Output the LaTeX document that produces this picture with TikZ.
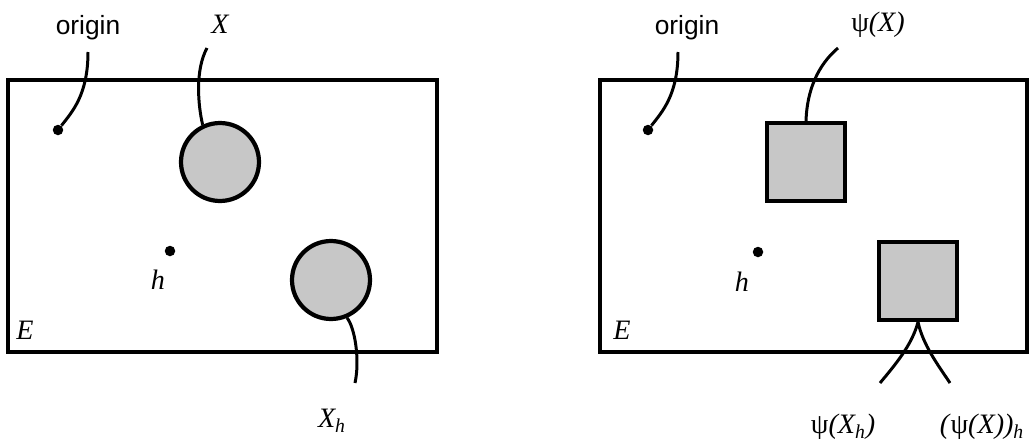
\documentclass[tikz,border=0pt]{standalone}
\usepackage{fontspec}
\setmainfont{Liberation Serif}
\setsansfont{Liberation Sans}

\begin{document}
\begin{tikzpicture}[x=0.02cm,y=-0.02cm,
  frame/.style={line width=2pt},
  blob/.style={draw,line width=2.4pt,fill=black!22,minimum size=1.56cm,inner sep=0pt},
  pt/.style={circle,fill,inner sep=0pt,minimum size=0.21cm},
  lead/.style={line width=1.7pt},
  word/.style={font=\sffamily\fontsize{15}{18}\selectfont},
  sym/.style={font=\fontsize{16}{19}\selectfont\itshape}]
  \useasboundingbox (0,0) rectangle (1035,443);
  % left panel: X and its translate X_h
  \draw[frame] (8,80) rectangle (437,352);
  \node[word] (orgL) at (88,28) {origin};
  \node[sym] (xL) at (220,24) {X};
  \node[sym] (hL) at (158,280) {h};
  \node[sym] (eL) at (25,330) {E};
  \node[sym] (xhL) at (332,421) {X\textsubscript{h}};
  \node[pt] (o1) at (58,130) {};
  \node[pt] (h1) at (170,251) {};
  \node[blob,circle] (c1) at (220,162) {};
  \node[blob,circle] (c2) at (331,280) {};
  \coordinate (orgLe) at (88,52);
  \coordinate (xLe) at (207,48);
  \coordinate (xhLe) at (355,383);
  \draw[lead] (orgLe) .. controls (88,95) and (72,112) .. (o1);
  \draw[lead] (xLe) .. controls (195,70) and (198,105) .. (c1.115);
  \draw[lead] (c2.-67) .. controls (355,328) and (360,360) .. (xhLe);
  % right panel: psi(X) and its translates
  \draw[frame] (600,80) rectangle (1027,352);
  \node[word] (orgR) at (687,28) {origin};
  \node[sym] (psiR) at (878,25) {\textup{ψ}(X)};
  \node[sym] (hR) at (742,282) {h};
  \node[sym] (eR) at (622,330) {E};
  \node[sym] (psihR) at (843,427) {\textup{ψ}(X\textsubscript{h})};
  \node[sym] (hpsiR) at (982,427) {(\textup{ψ}(X))\textsubscript{h}};
  \node[pt] (o2) at (648,130) {};
  \node[pt] (h2) at (758,252) {};
  \node[blob] (s1) at (806,162) {};
  \node[blob] (s2) at (918,281) {};
  \coordinate (orgRe) at (678,52);
  \coordinate (psiRe) at (838,48);
  \coordinate (psihRe) at (880,383);
  \coordinate (hpsiRe) at (950,383);
  \draw[lead] (orgRe) .. controls (678,95) and (662,112) .. (o2);
  \draw[lead] (psiRe) .. controls (818,65) and (807,90) .. (s1.north);
  \draw[lead] (s2.south) .. controls (912,345) and (895,365) .. (psihRe);
  \draw[lead] (s2.south) .. controls (923,345) and (938,365) .. (hpsiRe);
\end{tikzpicture}
\end{document}
